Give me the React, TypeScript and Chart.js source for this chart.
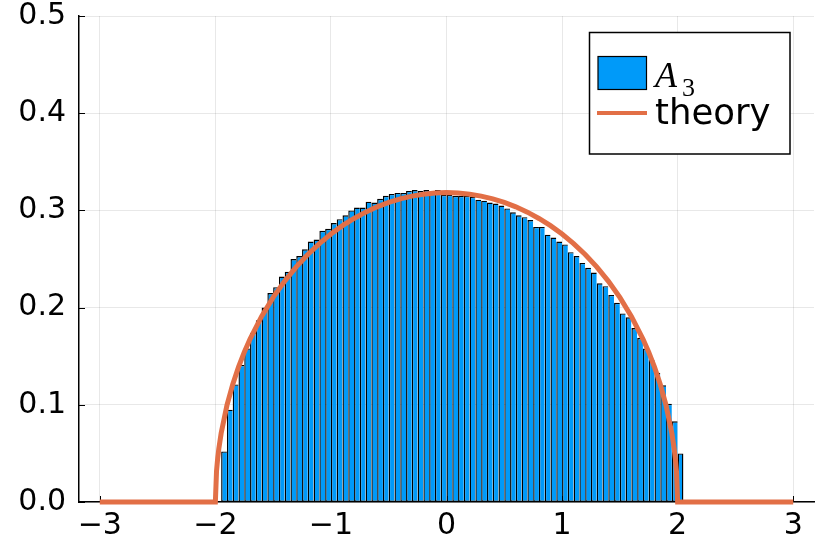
import React, { useEffect, useRef } from "react";
import { Chart, registerables } from "chart.js";

Chart.register(...registerables);

// Histogram: bins of width 0.05 starting at -1.95
const BIN_LEFT = -1.95;
const BIN_WIDTH = 0.05;
const HIST_LABEL = "A\u2083";
const HIST = [
  0.052, 0.095, 0.121, 0.141, 0.158, 0.174, 0.187, 0.2, 0.215, 0.221,
  0.232, 0.237, 0.25, 0.253, 0.26, 0.268, 0.27, 0.279, 0.281, 0.287,
  0.291, 0.295, 0.3, 0.303, 0.303, 0.309, 0.308, 0.312, 0.315, 0.317,
  0.318, 0.318, 0.32, 0.321, 0.32, 0.321, 0.32, 0.321, 0.316, 0.316,
  0.315, 0.315, 0.315, 0.314, 0.311, 0.31, 0.308, 0.307, 0.305, 0.302,
  0.298, 0.295, 0.293, 0.29, 0.283, 0.283, 0.275, 0.272, 0.268, 0.265,
  0.257, 0.253, 0.246, 0.241, 0.236, 0.225, 0.222, 0.213, 0.205, 0.194,
  0.19, 0.179, 0.169, 0.158, 0.146, 0.133, 0.12, 0.101, 0.083, 0.05,
];

// Theory curve samples
const THEORY_LABEL = "theory";
const THEORY_X = [
  -3, -2, -1.99, -1.98, -1.97, -1.95, -1.9, -1.85, -1.8, -1.75, -1.7, -1.6,
  -1.5, -1.4, -1.3, -1.2, -1.1, -1.0, -0.9, -0.8, -0.7, -0.6, -0.5, -0.4,
  -0.3, -0.2, -0.1, 0, 0.1, 0.2, 0.3, 0.4, 0.5, 0.6, 0.7, 0.8, 0.9, 1.0,
  1.1, 1.2, 1.3, 1.4, 1.5, 1.6, 1.7, 1.75, 1.8, 1.85, 1.9, 1.95, 1.97,
  1.98, 1.99, 2, 3,
];
const THEORY_Y = [
  0, 0, 0.0318, 0.0449, 0.0549, 0.0707, 0.0994, 0.1209, 0.1387, 0.1541,
  0.1677, 0.191, 0.2105, 0.2273, 0.2419, 0.2546, 0.2658, 0.2757, 0.2843,
  0.2917, 0.2982, 0.3037, 0.3082, 0.3119, 0.3147, 0.3167, 0.3179, 0.3183,
  0.3179, 0.3167, 0.3147, 0.3119, 0.3082, 0.3037, 0.2982, 0.2917, 0.2843,
  0.2757, 0.2658, 0.2546, 0.2419, 0.2273, 0.2105, 0.191, 0.1677, 0.1541,
  0.1387, 0.1209, 0.0994, 0.0707, 0.0549, 0.0449, 0.0318, 0, 0,
];

const XTICKS = [-3, -2, -1, 0, 1, 2, 3];
const YTICKS = [0, 0.1, 0.2, 0.3, 0.4, 0.5];

const BLUE = "#009AF9";
const ORANGE = "#E26F46";
const FONT = "'DejaVu Sans', sans-serif";

const innerTicks = {
  id: "innerTicks",
  beforeDatasetsDraw(chart: any) {
    const { ctx, chartArea, scales } = chart;
    ctx.save();
    ctx.strokeStyle = "#000";
    ctx.lineWidth = 1;
    ctx.beginPath();
    for (const v of YTICKS) {
      const py = Math.round(scales.y.getPixelForValue(v)) + 0.5;
      ctx.moveTo(chartArea.left, py);
      ctx.lineTo(chartArea.left + 6, py);
    }
    for (const v of XTICKS) {
      const px = Math.round(scales.x.getPixelForValue(v)) + 0.5;
      ctx.moveTo(px, chartArea.bottom);
      ctx.lineTo(px, chartArea.bottom - 6);
    }
    ctx.stroke();
    ctx.restore();
  },
};

const boxLegend = {
  id: "boxLegend",
  afterDraw(chart: any) {
    const { ctx } = chart;
    ctx.save();
    // frame
    ctx.fillStyle = "#fff";
    ctx.fillRect(589.5, 32.5, 200.5, 121.5);
    ctx.strokeStyle = "#000";
    ctx.lineWidth = 1.5;
    ctx.strokeRect(589.5, 32.5, 200.5, 121.5);
    // histogram swatch
    ctx.fillStyle = BLUE;
    ctx.fillRect(598, 56.5, 48.5, 33);
    ctx.lineWidth = 1.2;
    ctx.strokeRect(598, 56.5, 48.5, 33);
    // A_3 label
    ctx.fillStyle = "#000";
    ctx.textBaseline = "alphabetic";
    ctx.textAlign = "left";
    ctx.font = "italic 36px 'Liberation Serif', serif";
    ctx.fillText("A", 655, 87);
    ctx.font = "26px 'Liberation Serif', serif";
    ctx.fillText("3", 682, 96);
    // theory line swatch
    ctx.strokeStyle = ORANGE;
    ctx.lineWidth = 4;
    ctx.beginPath();
    ctx.moveTo(597, 113);
    ctx.lineTo(647, 113);
    ctx.stroke();
    ctx.fillStyle = "#000";
    ctx.font = "35.5px " + FONT;
    ctx.fillText(THEORY_LABEL, 655, 124);
    ctx.restore();
  },
};

export default function App() {
  const ref = useRef<HTMLCanvasElement>(null);

  useEffect(() => {
    if (!ref.current) return;
    Chart.defaults.font.family = FONT;
    const last = HIST.length - 1;
    const chart = new Chart(ref.current, {
      type: "bar",
      data: {
        datasets: [
          {
            type: "bar",
            label: HIST_LABEL,
            data: HIST.map((v, i) => ({ x: BIN_LEFT + BIN_WIDTH * (i + 0.5), y: v })),
            backgroundColor: BLUE,
            borderColor: "#000",
            borderWidth: (c: any) => ({ top: 1.4, left: 1.4, bottom: 1, right: c.dataIndex === last ? 1.4 : 0 }),
            borderSkipped: false,
            inflateAmount: 0,
            barPercentage: 1,
            categoryPercentage: 1,
            grouped: false,
            order: 2,
          } as any,
          {
            type: "line",
            label: THEORY_LABEL,
            data: THEORY_X.map((x, i) => ({ x, y: THEORY_Y[i] })),
            borderColor: ORANGE,
            borderWidth: 5,
            pointRadius: 0,
            fill: false,
            tension: 0,
            clip: false,
            order: 1,
          } as any,
        ],
      },
      options: {
        responsive: false,
        animation: false,
        devicePixelRatio: 1,
        layout: { padding: { top: 16, right: 16, left: 0, bottom: 0 } },
        plugins: { legend: { display: false }, tooltip: { enabled: false } },
        scales: {
          x: {
            type: "linear",
            min: -3.18,
            max: 3.18,
            offset: false,
            afterBuildTicks: (axis: any) => {
              axis.ticks = XTICKS.map((v) => ({ value: v }));
            },
            afterFit: (s: any) => {
              s.height = 52;
              s.paddingLeft = 0;
              s.paddingRight = 0;
            },
            ticks: {
              autoSkip: false,
              maxRotation: 0,
              padding: 6,
              color: "#000",
              font: { size: 30, family: FONT },
              callback: (v: any) => (v < 0 ? "\u2212" + Math.abs(v) : String(v)),
            },
            grid: { color: "rgba(0,0,0,0.09)", lineWidth: 1, drawTicks: false, offset: false },
            border: { display: true, color: "#000", width: 1.5 },
          },
          y: {
            type: "linear",
            min: 0,
            max: 0.5,
            afterBuildTicks: (axis: any) => {
              axis.ticks = YTICKS.map((v) => ({ value: v }));
            },
            afterFit: (s: any) => {
              s.width = 79;
              s.paddingTop = 0;
              s.paddingBottom = 0;
            },
            ticks: {
              padding: 13,
              color: "#000",
              font: { size: 30, family: FONT },
              callback: (v: any) => Number(v).toFixed(1),
            },
            grid: { color: "rgba(0,0,0,0.09)", lineWidth: 1, drawTicks: false },
            border: { display: true, color: "#000", width: 1.5 },
          },
        },
      },
      plugins: [innerTicks, boxLegend],
    } as any);
    return () => chart.destroy();
  }, []);

  return (
    <div style={{ position: "absolute", left: 0, top: 0, width: 830, height: 554, background: "#fff" }}>
      <canvas ref={ref} width={830} height={554} style={{ display: "block" }} />
    </div>
  );
}
